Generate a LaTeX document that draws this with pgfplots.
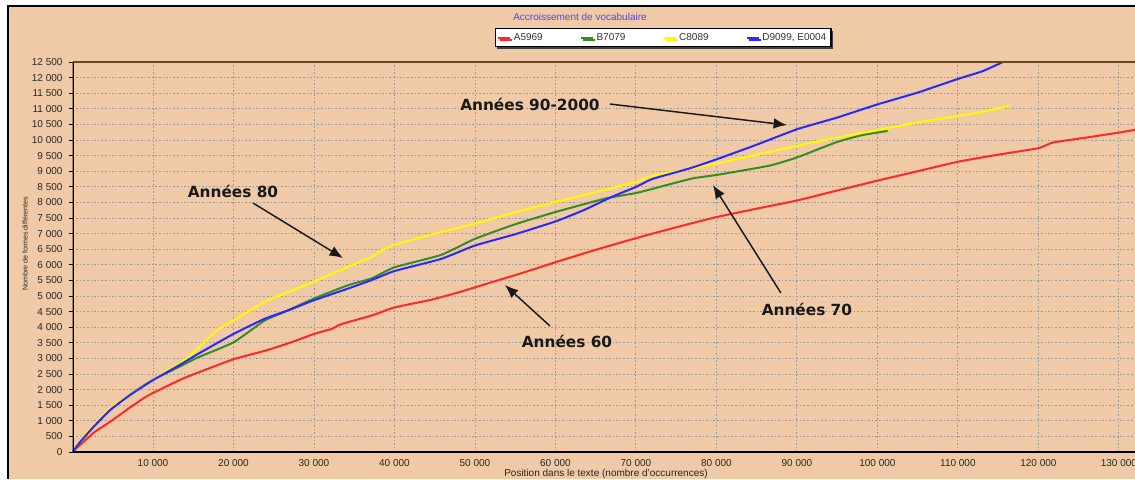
\documentclass[border=0pt]{standalone}
\usepackage{fontspec}
\setmainfont{Liberation Sans}
\newfontfamily\annfont{DejaVu Sans}
\usepackage{pgfplots}
\pgfplotsset{compat=1.18}
\usetikzlibrary{arrows.meta,shadows}
\definecolor{bgpeach}{RGB}{240,202,166}
\definecolor{titleblue}{RGB}{80,70,230}
\definecolor{cred}{RGB}{255,40,40}
\definecolor{cgreen}{RGB}{50,140,40}
\definecolor{cyellow}{RGB}{255,250,0}
\definecolor{cblue}{RGB}{40,40,255}
\begin{document}
\begin{tikzpicture}[x=0.75pt,y=0.75pt]
\useasboundingbox (0,0) rectangle (1135,479);
\fill[white] (0,0) rectangle (1135,479);
\fill[bgpeach] (8,0) rectangle (1135,473);
\draw[black,line width=2pt] (8,0) -- (8,473) -- (1135,473);
\begin{axis}[
  at={(54.375pt,20.25pt)}, anchor=south west,
  scale only axis, width=796.875pt, height=292.5pt,
  xmin=0, xmax=132000, ymin=0, ymax=12500,
  xtick={10000,20000,30000,40000,50000,60000,70000,80000,90000,100000,110000,120000,130000},
  xticklabels={10 000,20 000,30 000,40 000,50 000,60 000,70 000,80 000,90 000,100 000,110 000,120 000,130 000},
  ytick={0,500,1000,1500,2000,2500,3000,3500,4000,4500,5000,5500,6000,6500,7000,7500,8000,8500,9000,9500,10000,10500,11000,11500,12000,12500},
  yticklabels={0,500,1 000,1 500,2 000,2 500,3 000,3 500,4 000,4 500,5 000,5 500,6 000,6 500,7 000,7 500,8 000,8 500,9 000,9 500,10 000,10 500,11 000,11 500,12 000,12 500},
  scaled x ticks=false, scaled y ticks=false,
  xtick scale label code/.code={}, ytick scale label code/.code={},
  ticklabel style={font=\fontsize{7.5}{9}\selectfont, text=black!85},
  xticklabel style={yshift=1pt},
  yticklabel style={xshift=-1pt},
  grid=major,
  major grid style={black!40, dash pattern=on 1.2pt off 1.5pt, line width=0.7pt},
  axis line style={draw=none},
  tick align=outside,
  major tick length=3pt,
  xtick style={draw=none},
  ytick style={black, line width=0.6pt},
  legend columns=4,
  legend style={at={(rel axis cs:0.3976,1.087)}, anchor=north west,
    draw=black, line width=0.8pt, fill=white,
    drop shadow={shadow xshift=1.5pt, shadow yshift=-1.5pt, fill=black!75, opacity=1},
    font=\fontsize{7.5}{8}\selectfont, text=black!80,
    inner sep=1.5pt, row sep=0pt,
    /tikz/every even column/.append style={column sep=26pt}},
  legend image code/.code={\draw[#1,line width=1.3pt] (0pt,0pt) -- (9pt,0pt);},
]
\addplot[cred, line width=1.5pt, smooth, tension=0.3] coordinates {
(0,0) (2620,616) (4700,973) (7000,1400) (8875,1730) (10000,1892) (13460,2324)
(15540,2541) (20000,2973) (23875,3243) (27000,3500) (30000,3784) (32200,3946)
(33360,4096) (37200,4378) (40000,4633) (44400,4870) (48000,5120) (52030,5438)
(56000,5750) (60000,6082)
(65000,6480) (70000,6854) (72040,6999) (76000,7270) (80000,7530) (85000,7800)
(90000,8061) (95000,8380) (100000,8698) (105000,9000)
(110000,9303) (115000,9530) (120000,9739) (121800,9919) (126000,10080) (130000,10238) (132400,10344)
};
\addlegendentry{A5969}
\addplot[cgreen, line width=1.5pt, smooth, tension=0.3] coordinates {
(0,0) (956,330) (2620,811) (4700,1351) (6780,1784) (9900,2300)
(13460,2757) (15540,3027) (20000,3514) (23875,4216) (26000,4450) (30000,4919)
(34290,5351) (37200,5568) (40000,5920) (45800,6318) (50000,6832)
(55000,7300) (60000,7691) (66140,8120) (70000,8300) (72040,8433) (76930,8764)
(80000,8879) (86550,9176) (90000,9441) (94800,9919) (98000,10150) (101270,10291)
};
\addlegendentry{B7079}
\addplot[cyellow, line width=1.5pt, smooth, tension=0.3] coordinates {
(0,0) (956,350) (2620,865) (4700,1400) (7210,1860) (10000,2303) (11375,2541) (13460,2865)
(15540,3297) (17625,3838) (20000,4216) (23875,4811) (27000,5150) (30000,5459) (34290,5946)
(37200,6250) (38600,6480) (40000,6640) (45000,7000) (50000,7316) (55000,7680) (60000,8013) (65000,8330) (70000,8657)
(72040,8857) (76930,9086) (80000,9250) (85000,9530) (90000,9813) (95000,10080) (100000,10323) (105000,10560)
(110000,10769) (113000,10900) (116400,11088)
};
\addlegendentry{C8089}
\addplot[cblue, line width=1.5pt, smooth, tension=0.3] coordinates {
(0,0) (956,324) (2620,811) (4700,1351) (7210,1838) (10000,2303) (13460,2811)
(15540,3135) (20000,3784) (23875,4270) (27000,4560) (30000,4865) (34290,5243)
(37200,5514) (40000,5800) (45800,6189) (50000,6618) (55000,6980) (60000,7390) (63500,7750)
(66970,8174) (70000,8496) (72040,8751) (76700,9092) (80000,9380) (85000,9850)
(90000,10344) (95000,10720) (100000,11141) (105000,11520) (110000,11958) (113000,12200) (115600,12500) (117000,12650)
};
\addlegendentry{D9099, E0004}
% axis frame
\draw[black, line width=1.6pt] (rel axis cs:0,1) -- (rel axis cs:0,0) -- (rel axis cs:1,0);
\draw[black!45!brown, line width=1pt] (rel axis cs:0,1) -- (rel axis cs:1,1);
% annotations
\node[font={\fontsize{11.5}{13}\selectfont\annfont\bfseries}, text=black!90, inner sep=0pt] at (axis cs:56830,11153) {Années 90-2000};
\draw[black!90, line width=1.1pt, -{Latex[length=10pt,width=8pt]}] (axis cs:66770,11153) -- (axis cs:88760,10480);
\node[font={\fontsize{11.5}{13}\selectfont\annfont\bfseries}, text=black!90, inner sep=0pt] at (axis cs:19940,8365) {Années 80};
\draw[black!90, line width=1.1pt, -{Latex[length=10pt,width=8pt]}] (axis cs:22420,7980) -- (axis cs:33600,6218);
\node[font={\fontsize{11.5}{13}\selectfont\annfont\bfseries}, text=black!90, inner sep=0pt] at (axis cs:91240,4583) {Années 70};
\draw[black!90, line width=1.1pt, -{Latex[length=10pt,width=8pt]}] (axis cs:88000,5100) -- (axis cs:79570,8557);
\node[font={\fontsize{11.5}{13}\selectfont\annfont\bfseries}, text=black!90, inner sep=0pt] at (axis cs:61430,3558) {Années 60};
\draw[black!90, line width=1.1pt, -{Latex[length=10pt,width=8pt]}] (axis cs:59320,4038) -- (axis cs:53730,5352);
\end{axis}
\node[text=titleblue, font=\fontsize{7.5}{9}\selectfont] at (580,462) {Accroissement de vocabulaire};
\node[rotate=90, font=\fontsize{5.3}{6}\selectfont, text=black!85] at (25,235) {Nombre de formes différentes};
\node[font=\fontsize{7.5}{8}\selectfont, text=black!85, inner sep=0pt] at (606,5) {Position dans le texte (nombre d'occurrences)};
\end{tikzpicture}
\end{document}
